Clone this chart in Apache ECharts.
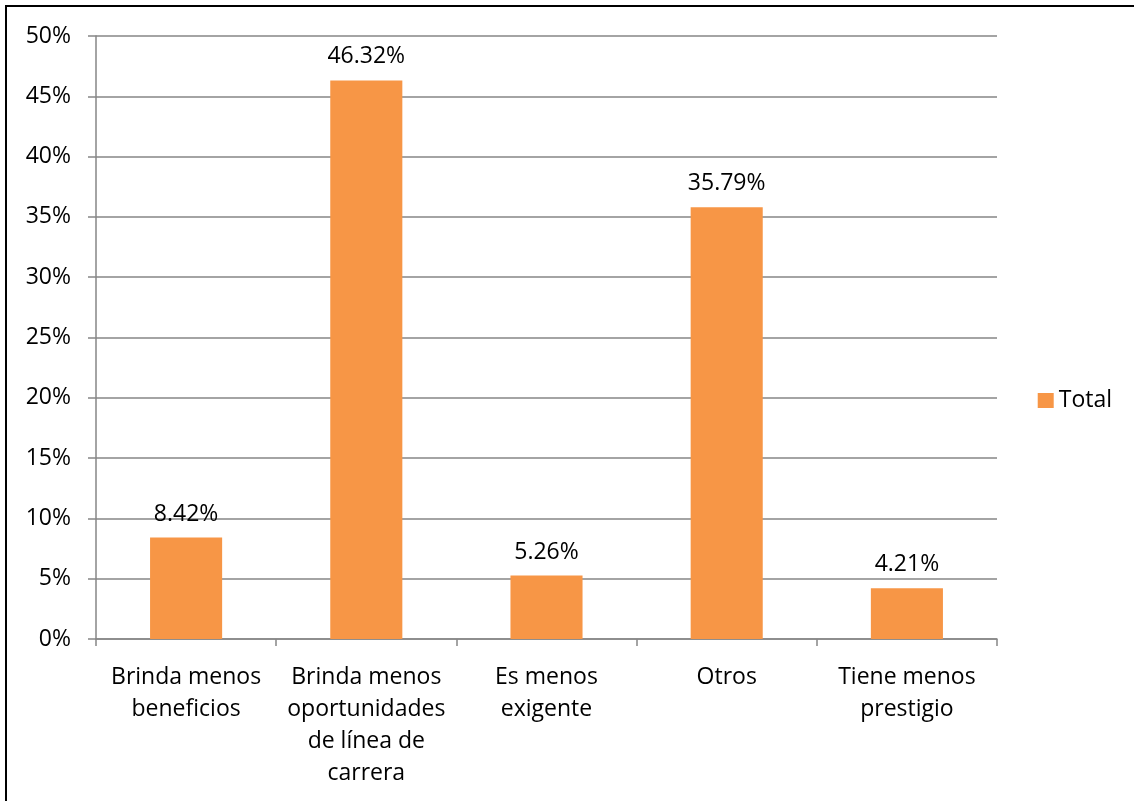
<!DOCTYPE html>
<html>
<head>
<meta charset="utf-8">
<style>
  html, body { margin: 0; padding: 0; background: #ffffff; }
  #chart { width: 1134px; height: 801px; }
</style>
<script src="https://cdn.jsdelivr.net/npm/echarts@6/dist/echarts.min.js"></script>
</head>
<body>
<div id="chart"></div>
<script>
// Reasons, with line breaks for the axis labels
const categories = [
  'Brinda menos\nbeneficios',
  'Brinda menos\noportunidades\nde línea de\ncarrera',
  'Es menos\nexigente',
  'Otros',
  'Tiene menos\nprestigio'
];
// Share of responses (%)
const totals = [8.42, 46.32, 5.26, 35.79, 4.21];
const seriesName = 'Total';

const FONT = 'Open Sans';
const FS = 23;
const chart = echarts.init(document.getElementById('chart'), null, { renderer: 'canvas' });

chart.setOption({
  backgroundColor: '#ffffff',
  animation: false,
  textStyle: { fontFamily: FONT },
  graphic: [{
    type: 'rect',
    shape: { x: 6, y: 6, width: 1200, height: 900 },
    style: { fill: 'none', stroke: '#000000', lineWidth: 2 },
    silent: true
  }],
  grid: { left: 96, right: 137, top: 36, bottom: 162, containLabel: false },
  legend: {
    orient: 'vertical',
    right: 17,
    top: 'middle',
    itemWidth: 16,
    itemHeight: 15,
    itemGap: 6,
    icon: 'rect',
    textStyle: { fontFamily: FONT, fontSize: FS, color: '#000000' },
    data: [seriesName]
  },
  xAxis: {
    type: 'category',
    data: categories,
    axisLine: { lineStyle: { color: '#868686', width: 1.5 } },
    axisTick: { show: true, length: 7, alignWithLabel: false, lineStyle: { color: '#868686', width: 1.5 } },
    axisLabel: {
      interval: 0,
      margin: 22,
      fontFamily: FONT,
      fontSize: FS,
      lineHeight: 32,
      color: '#000000'
    }
  },
  yAxis: {
    type: 'value',
    min: 0,
    max: 50,
    interval: 5,
    axisLine: { show: true, lineStyle: { color: '#868686', width: 1.5 } },
    axisTick: { show: true, length: 8, lineStyle: { color: '#868686', width: 1.5 } },
    splitLine: { show: true, lineStyle: { color: '#868686', width: 1.5 } },
    axisLabel: {
      margin: 25,
      fontFamily: FONT,
      fontSize: FS,
      color: '#000000',
      formatter: v => v + '%'
    }
  },
  series: [{
    name: seriesName,
    type: 'bar',
    data: totals,
    barWidth: '40%',
    itemStyle: { color: '#F79646' },
    label: {
      show: true,
      position: 'top',
      distance: 12,
      fontFamily: FONT,
      fontSize: FS,
      color: '#000000',
      formatter: p => p.value.toFixed(2) + '%'
    }
  }]
});
</script>
</body>
</html>
